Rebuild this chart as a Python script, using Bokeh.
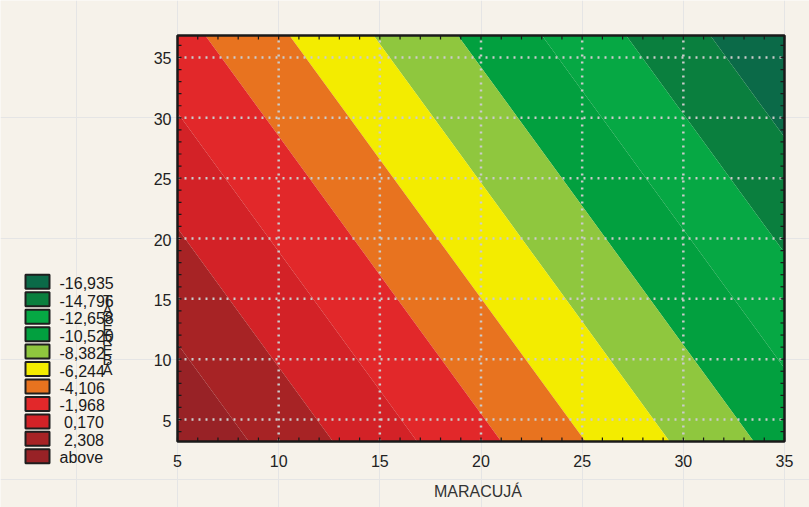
import numpy as np
from bokeh.plotting import figure
from bokeh.models import Range1d
from bokeh.embed import file_html
from bokeh.resources import INLINE
from bokeh.core.properties import value

# ---------------- data ----------------
maracuja = [5, 10, 15, 20, 25, 30, 35]          # x grid
tapereba = [3.18, 10, 20, 30, 36.82]            # y grid
response = [                                     # z at (tapereba row, maracuja col)
    [4.119, 1.549, -1.021, -3.591, -6.161, -8.731, -11.301],
    [2.595, 0.025, -2.545, -5.115, -7.685, -10.255, -12.825],
    [0.360, -2.210, -4.780, -7.350, -9.920, -12.490, -15.060],
    [-1.875, -4.445, -7.015, -9.585, -12.155, -14.725, -17.295],
    [-3.399, -5.969, -8.539, -11.109, -13.679, -16.249, -18.819],
]
levels = [-19.073, -16.935, -14.796, -12.658, -10.520, -8.382,
          -6.244, -4.106, -1.968, 0.170, 2.308, 4.446]
level_labels = ["-16,935", "-14,796", "-12,658", "-10,520", "-8,382", "-6,244",
                "-4,106", "-1,968", "\u00a00,170", "\u00a02,308", "above"]
band_colors = ["#0b6a48", "#0a7f3e", "#06a844", "#02a03f", "#8fc73e", "#f3ec00",
               "#e8731f", "#e2282a", "#d32227", "#a72325", "#982226"]
x_ticks = [5, 10, 15, 20, 25, 30, 35]
y_ticks = [5, 10, 15, 20, 25, 30, 35]
x_title = "MARACUJÁ"
y_title = "TAPEREBÁ"
x_lo, x_hi = 5, 35
y_lo, y_hi = 3.18, 36.82

# ---------------- layout / style ----------------
BG = "#f6f2ea"
FONT = "Liberation Sans"
INK = "#1a1a1a"
W, H = 809, 507
F_LEFT, F_RIGHT, F_TOP, F_BOTTOM = 177, 784, 35, 441   # plot box in page px
sx = (F_RIGHT - F_LEFT) / (x_hi - x_lo)
sy = (F_BOTTOM - F_TOP) / (y_hi - y_lo)

p = figure(width=W, height=H,
           x_range=Range1d(x_lo - F_LEFT / sx, x_hi + (W - F_RIGHT) / sx),
           y_range=Range1d(y_lo - (H - F_BOTTOM) / sy, y_hi + F_TOP / sy),
           x_axis_location=None, y_axis_location=None,
           output_backend="svg", toolbar_location=None,
           min_border=0, outline_line_color=None,
           background_fill_color=BG, border_fill_color=BG)
p.extra_x_ranges = {"px": Range1d(0, W)}
p.extra_y_ranges = {"px": Range1d(H, 0)}

# contour bands
X, Y = np.meshgrid(np.array(maracuja, dtype=float), np.array(tapereba, dtype=float))
p.contour(X, Y, np.array(response, dtype=float), levels,
          fill_color=band_colors, line_color=None)

# dotted grid
gx = [t for t in x_ticks if x_lo < t < x_hi]
p.segment(x0=gx, y0=y_lo, x1=gx, y1=y_hi, line_color="#cbcbcb",
          line_width=2.5, line_dash="2 5")
p.segment(x0=x_lo, y0=y_ticks, x1=x_hi, y1=y_ticks, line_color="#cbcbcb",
          line_width=2.5, line_dash="2 5")

# inner ticks on all four sides (major every tick, minor every unit)
xt = np.arange(x_lo, x_hi + 1, 1.0)
yt = np.arange(np.ceil(y_lo), np.floor(y_hi) + 1, 1.0)
for xs, ys, ang in ((xt, y_lo, np.pi / 2), (xt, y_hi, -np.pi / 2)):
    p.ray(x=xs, y=ys, length=4, length_units="screen", angle=ang,
          line_color=INK, line_width=1.2)
for xs, ys, ang in ((x_lo, yt, 0.0), (x_hi, yt, np.pi)):
    p.ray(x=xs, y=ys, length=4, length_units="screen", angle=ang,
          line_color=INK, line_width=1.2)

# plot box
p.quad(left=x_lo, right=x_hi, bottom=y_lo, top=y_hi, fill_color=None,
       line_color=INK, line_width=2.5)

# tick labels and axis title
p.text(x=x_ticks, y=y_lo, text=[str(t) for t in x_ticks], y_offset=19,
       text_align="center", text_baseline="middle", text_font=value(FONT),
       text_font_size="16px", text_color="#222222")
p.text(x=x_lo, y=y_ticks, text=[str(t) for t in y_ticks], x_offset=-6, y_offset=1,
       text_align="right", text_baseline="middle", text_font=value(FONT),
       text_font_size="16px", text_color="#222222")
p.text(x=[(x_lo + x_hi) / 2], y=y_lo, text=[x_title], x_offset=-3, y_offset=50,
       text_align="center", text_baseline="middle", text_font=value(FONT),
       text_font_size="16px", text_color="#333333")

# legend (page pixel coordinates)
step = 17.45
cy0 = 281.3
sw_y = [cy0 + step * i for i in range(len(level_labels))]
p.rect(x=37, y=sw_y, width=24, height=14, fill_color=band_colors,
       line_color="#1e1e1e", line_width=2, x_range_name="px", y_range_name="px")
p.text(x=59, y=[v + 1.5 for v in sw_y], text=level_labels, text_font=value(FONT),
       text_font_size="16px", text_baseline="middle", text_align="left",
       text_color=INK, x_range_name="px", y_range_name="px")

# y title: upright glyphs placed along a vertical line
em = {"T": 0.611, "A": 0.667, "P": 0.667, "E": 0.667, "R": 0.722, "B": 0.667, "Á": 0.667}
fs = 15
ty, cur = [], 294.4
for ch in y_title:
    w = em.get(ch, 0.667) * fs
    ty.append(cur + w / 2)
    cur += w
p.text(x=107, y=ty, text=list(y_title), text_font=value(FONT), text_font_size=f"{fs}px",
       text_baseline="middle", text_align="center", text_color="#222222",
       x_range_name="px", y_range_name="px")

html = file_html(p, INLINE)
html = html.replace("<body>", f'<body style="background-color:{BG};">', 1)
open("out.html", "w").write(html)
